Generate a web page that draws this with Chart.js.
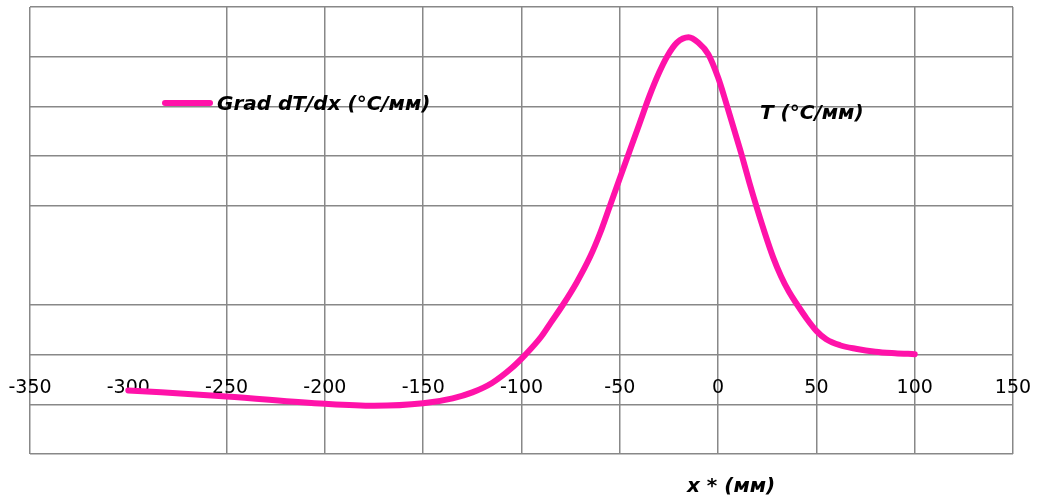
<!DOCTYPE html>
<html lang="ru">
<head>
    <meta charset="UTF-8">
    <title>Grad dT/dx</title>
    <script src="https://cdn.jsdelivr.net/npm/chart.js"></script>
    <style>
        body { margin: 0; background: #fff; }
        #wrap { width: 1039px; height: 500px; }
    </style>
</head>
<body>
    <div id="wrap"><canvas id="chart"></canvas></div>

    <script>
        // values
        const xValues = [-300, -250, -200, -175, -150, -135, -125, -115, -105, -98, -90, -85, -79, -72, -65, -60, -55, -50, -45, -40, -35, -30, -26, -21, -15,
                         -10, -5, 0, 4, 8, 12, 16, 20, 24, 28, 32, 36, 40, 45, 50, 55, 62, 70, 80, 90, 100];
        const gradValues = [-0.72, -0.84, -0.99, -1.03, -0.98, -0.88, -0.76, -0.57, -0.27, 0.0, 0.36, 0.65, 1.0, 1.45, 1.98, 2.45, 3.0, 3.55, 4.1, 4.65, 5.2, 5.68, 6.0, 6.28, 6.39,
                            6.28, 6.05, 5.58, 5.08, 4.55, 4.02, 3.45, 2.92, 2.42, 1.96, 1.58, 1.27, 1.02, 0.73, 0.48, 0.31, 0.19, 0.12, 0.06, 0.03, 0.01];
        const xTicks = [-350, -300, -250, -200, -150, -100, -50, 0, 50, 100, 150];
        const hiddenX = [-300];   // gridlines that are missing in the picture
        const hiddenY = [2];

        const legendText = 'Grad dT/dx (°C/мм)';
        const seriesNote = 'T (°C/мм)';
        const xTitle = 'x * (мм)';

        const pink = '#ff12a9';
        const gridColor = '#888888';
        const font = '"DejaVu Sans", sans-serif';

        const points = xValues.map((x, i) => ({x: x, y: gradValues[i]}));

        // texts placed inside the chart like the original
        const labelsPlugin = {
            id: 'labels',
            afterDraw(chart) {
                const ctx = chart.ctx;
                const a = chart.chartArea;
                ctx.save();
                ctx.font = 'italic bold 20px ' + font;
                ctx.fillStyle = '#000';
                ctx.textBaseline = 'middle';
                ctx.strokeStyle = pink;
                ctx.lineWidth = 6;
                ctx.lineCap = 'round';
                ctx.beginPath();
                ctx.moveTo(a.left + 135, a.top + 96);
                ctx.lineTo(a.left + 180, a.top + 96);
                ctx.stroke();
                ctx.fillText(legendText, a.left + 187, a.top + 98);
                ctx.fillText(seriesNote, a.left + 730, a.top + 107);
                ctx.fillText(xTitle, a.left + 657, a.bottom + 33);
                ctx.restore();
            }
        };

        new Chart('chart', {
            type: 'scatter',
            data: {
                datasets: [{
                    label: legendText,
                    data: points,
                    showLine: true,
                    borderColor: pink,
                    borderWidth: 6,
                    borderCapStyle: 'round',
                    pointRadius: 0,
                    cubicInterpolationMode: 'monotone',
                    fill: false
                }]
            },
            options: {
                responsive: true,
                maintainAspectRatio: false,
                animation: false,
                layout: {padding: {left: 30, right: 26, top: 7, bottom: 46}},
                plugins: {legend: {display: false}, tooltip: {enabled: false}},
                scales: {
                    x: {
                        type: 'linear',
                        position: {y: 0},
                        min: -350,
                        max: 150,
                        afterBuildTicks: (scale) => { scale.ticks = xTicks.map(v => ({value: v})); },
                        // edge labels may stick out of the plot, like in the original
                        afterFit: (scale) => { scale.paddingLeft = 0; scale.paddingRight = 0; },
                        ticks: {
                            autoSkip: false,
                            maxRotation: 0,
                            padding: 22,
                            color: '#000',
                            font: {family: font, size: 19}
                        },
                        grid: {
                            drawTicks: false,
                            color: (c) => (c.tick && hiddenX.includes(c.tick.value)) ? 'rgba(0,0,0,0)' : gridColor,
                            lineWidth: 1.5
                        },
                        border: {display: false}
                    },
                    y: {
                        min: -2,
                        max: 7,
                        ticks: {display: false, stepSize: 1},
                        grid: {
                            drawTicks: false,
                            color: (c) => (c.tick && hiddenY.includes(c.tick.value)) ? 'rgba(0,0,0,0)' : gridColor,
                            lineWidth: 1.5
                        },
                        border: {display: false}
                    }
                }
            },
            plugins: [labelsPlugin]
        });
    </script>
</body>
</html>
